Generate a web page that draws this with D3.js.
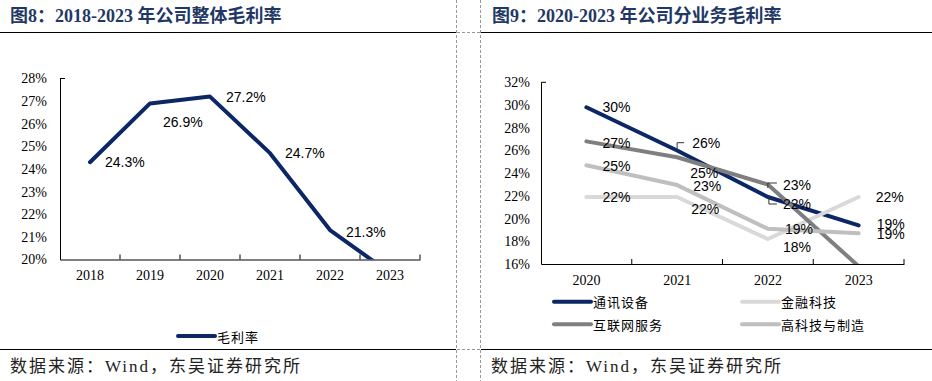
<!DOCTYPE html>
<html><head><meta charset="utf-8">
<script src="https://cdn.jsdelivr.net/npm/d3@7/dist/d3.min.js"></script>
<style>
html,body{margin:0;padding:0;background:#fff;}
svg{display:block;}
</style></head>
<body>
<svg id="chart" width="932" height="381"></svg>
<script>
// ---------- DATA ----------
const years1 = ["2018","2019","2020","2021","2022","2023"];
const grossMargin = [24.3, 26.9, 27.2, 24.7, 21.3, 19.4];
const yTicks1 = [20,21,22,23,24,25,26,27,28];

const years2 = ["2020","2021","2022","2023"];
const telecom  = [29.8, 26.0, 21.9, 19.4];   // 通讯设备
const internet = [26.8, 25.4, 23.0, 15.8];   // 互联网服务
const fintech  = [21.9, 21.9, 18.2, 21.9];   // 金融科技
const hightech = [24.7, 22.95, 19.1, 18.7];  // 高科技与制造
const yTicks2 = [16,18,20,22,24,26,28,30,32];

const title1 = "图8：2018-2023 年公司整体毛利率";
const title2 = "图9：2020-2023 年公司分业务毛利率";
const source = "数据来源：Wind，东吴证券研究所";

// ---------- STYLE / LAYOUT ----------
const svg = d3.select("#chart");
const SERIF = "'Liberation Serif','Times New Roman','Noto Sans CJK SC',serif";
const SANS = "'Liberation Sans',Arial,sans-serif";
const CJK = "'Noto Sans CJK SC',sans-serif";
const NAVY = "#0c2766";

// frame lines
function frame(){
  const g = svg.append("g");
  [32.5, 349.5].forEach(y=>{
    g.append("line").attr("x1",0).attr("x2",456).attr("y1",y).attr("y2",y).attr("stroke","#000").attr("stroke-width",1.2);
    g.append("line").attr("x1",481).attr("x2",932).attr("y1",y).attr("y2",y).attr("stroke","#000").attr("stroke-width",1.2);
    g.append("line").attr("x1",457).attr("x2",480).attr("y1",y).attr("y2",y).attr("stroke","#999").attr("stroke-dasharray","3,2");
  });
  [456.5, 480.5].forEach(x=>{
    g.append("line").attr("x1",x).attr("x2",x).attr("y1",0).attr("y2",381).attr("stroke","#999").attr("stroke-dasharray","3,2");
  });
  [[10,title1],[492,title2]].forEach(([x,t])=>{
    svg.append("text").attr("x",x).attr("y",22).text(t)
      .attr("font-family",SERIF).attr("font-weight","bold").attr("font-size",18).attr("fill","#1f3864");
  });
  [[10,source],[491,source]].forEach(([x,t])=>{
    svg.append("text").attr("x",x).attr("y",366).attr("dominant-baseline","central").text(t)
      .attr("font-family",SERIF).attr("font-size",17).attr("letter-spacing","2px").attr("fill","#222");
  });
}
frame();

function drawPanel(cfg){
  const g = svg.append("g");
  const x = d3.scaleBand().domain(cfg.cats).range([cfg.x0, cfg.x1]);
  const cx = d => x(d) + x.bandwidth()/2;
  const y = d3.scaleLinear().domain([cfg.ticks[0], cfg.ticks[cfg.ticks.length-1]]).range([cfg.y0, cfg.y1]);

  // y axis
  const ya = g.append("g").attr("transform",`translate(${cfg.x0},0)`)
    .call(d3.axisLeft(y).tickValues(cfg.ticks).tickSize(0).tickPadding(cfg.yPad).tickFormat(d=>d+"%"));
  ya.select(".domain").attr("stroke","#000");
  ya.selectAll("text").attr("font-family",SERIF).attr("font-size",14).attr("fill","#000");
  g.append("line").attr("x1",cfg.x0).attr("x2",cfg.x0+5).attr("y1",cfg.y1).attr("y2",cfg.y1).attr("stroke","#000");

  // x axis
  const xa = g.append("g").attr("transform",`translate(0,${cfg.y0})`)
    .call(d3.axisBottom(x).tickSize(0).tickPadding(11));
  xa.select(".domain").attr("stroke","#000");
  xa.selectAll("text").attr("font-family",SERIF).attr("font-size",14).attr("fill","#000");
  cfg.cats.forEach(d=>{
    const bx = x(d)+x.bandwidth();
    g.append("line").attr("x1",bx).attr("x2",bx).attr("y1",cfg.y0).attr("y2",cfg.y0-5).attr("stroke","#000");
  });

  // clip
  const id = "clip"+cfg.x0;
  svg.append("clipPath").attr("id",id).append("rect")
    .attr("x",cfg.x0).attr("y",cfg.y1-5).attr("width",cfg.x1-cfg.x0).attr("height",cfg.y0-cfg.y1+5);

  const line = d3.line().x((v,i)=>cx(cfg.cats[i])).y(v=>y(v));
  cfg.series.forEach(s=>{
    g.append("path").attr("d",line(s.values)).attr("fill","none")
      .attr("stroke",s.color).attr("stroke-width",4)
      .attr("stroke-linejoin","round").attr("stroke-linecap","round")
      .attr("clip-path",`url(#${id})`);
  });
  // labels
  cfg.series.forEach(s=>{
    s.values.forEach((v,i)=>{
      if(v < cfg.ticks[0]) return;
      const off = (s.offsets && s.offsets[i]) || [16,0];
      g.append("text").attr("x",cx(cfg.cats[i])+off[0]).attr("y",y(v)+off[1])
        .attr("dominant-baseline","central").attr("font-family",SANS).attr("font-size",14)
        .attr("fill","#000").text(cfg.fmt(v));
    });
  });
  (cfg.leaders||[]).forEach(l=>{
    const px = cx(cfg.cats[l.i]);
    g.append("path").attr("d",l.path(px)).attr("fill","none").attr("stroke","#333").attr("stroke-width",1);
  });

  // legend
  cfg.legend.forEach(it=>{
    g.append("line").attr("x1",it.x).attr("x2",it.x+37).attr("y1",it.y).attr("y2",it.y)
      .attr("stroke",it.color).attr("stroke-width",4).attr("stroke-linecap","round");
    g.append("text").attr("x",it.x+39).attr("y",it.y).attr("dominant-baseline","central")
      .attr("font-family",CJK).attr("font-size",13).attr("letter-spacing","1px").attr("fill","#000").text(it.name);
  });
}

drawPanel({
  cats: years1, ticks: yTicks1, x0: 60, x1: 420, y0: 259.5, y1: 78.5, yPad: 13,
  fmt: v => v.toFixed(1)+"%",
  series: [{values: grossMargin, color: NAVY,
            offsets: [[15,0],[13,19],[16,0],[15,0],[16,1.5],[16,0]]}],
  legend: [{name:"毛利率", color: NAVY, x: 178, y: 336}]
});

drawPanel({
  cats: years2, ticks: yTicks2, x0: 541, x1: 904, y0: 264, y1: 82.3, yPad: 11,
  fmt: v => Math.round(v)+"%",
  series: [
    {values: telecom,  color: NAVY,      offsets: [[16,0],[15,-7],[15,7],[18,-1]]},
    {values: fintech,  color: "#d9d9d9", offsets: [[16,0],[14,12],[15,8],[17,0]]},
    {values: internet, color: "#7f7f7f", offsets: [[16,2],[13,16],[15,0],[16,0]]},
    {values: hightech, color: "#bfbfbf", offsets: [[16,1],[16,1],[17,0],[18,1]]}
  ],
  leaders: [
    {i:1, path: px => `M${px},151.7V142.7H${px+7}`},
    {i:2, path: px => `M${px+9},183H${px}V188`},
    {i:2, path: px => `M${px+1},195V204H${px+9}`}
  ],
  legend: [
    {name:"通讯设备", color: NAVY, x: 554, y: 301.7},
    {name:"金融科技", color: "#d9d9d9", x: 742, y: 301.7},
    {name:"互联网服务", color: "#7f7f7f", x: 554, y: 324.3},
    {name:"高科技与制造", color: "#bfbfbf", x: 742, y: 324.3}
  ]
});
</script>
</body></html>
